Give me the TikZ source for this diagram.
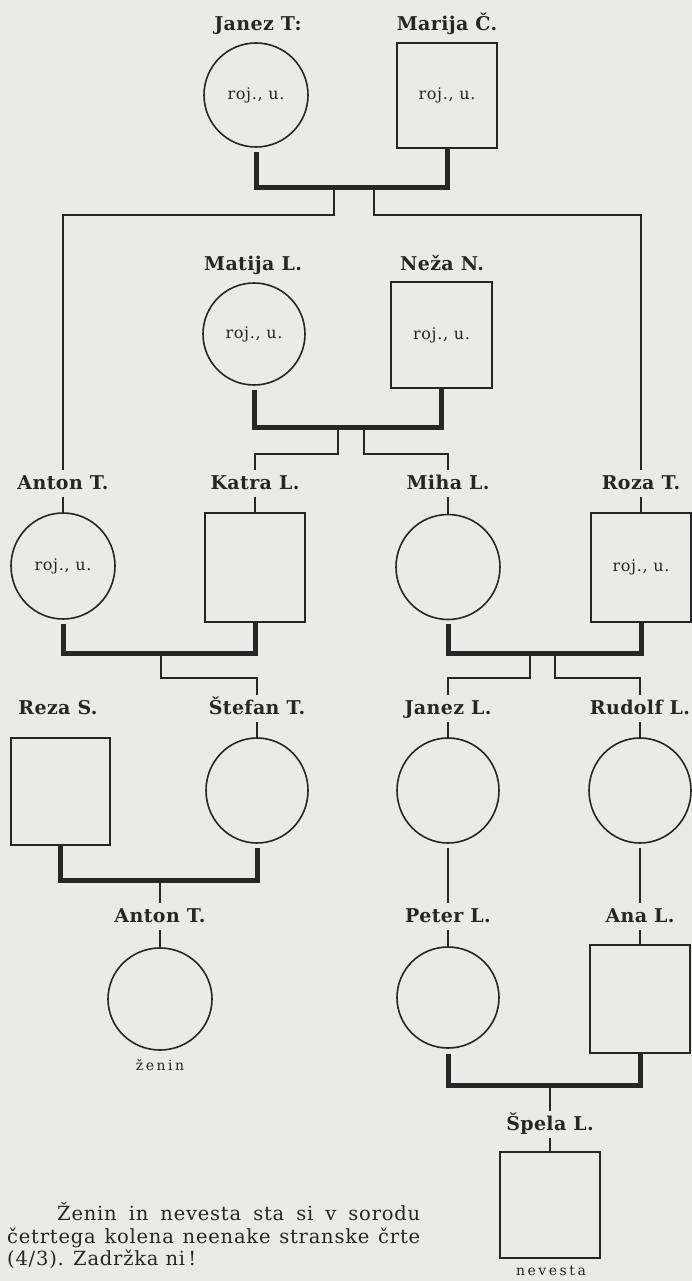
\documentclass[tikz,border=0pt]{standalone}
\usepackage{fontspec}
\setmainfont{DejaVu Serif}
\newfontfamily\namefont[LetterSpace=2]{DejaVu Serif}
\newfontfamily\innerfont[LetterSpace=4]{DejaVu Serif}
\newfontfamily\spacedfont[LetterSpace=18]{DejaVu Serif}
\newfontfamily\bodyfont[LetterSpace=4]{DejaVu Serif}
\usetikzlibrary{shapes.geometric}
\definecolor{paper}{RGB}{234,234,231}
\definecolor{ink}{RGB}{38,38,38}
\begin{document}
\begin{tikzpicture}[x=1pt,y=-1pt,
  pcirc/.style={ellipse, draw=ink, line width=1.6pt, inner sep=0pt, text=ink, font=\innerfont\fontsize{16}{16}\selectfont},
  pbox/.style={rectangle, draw=ink, line width=1.6pt, inner sep=0pt, text=ink, font=\innerfont\fontsize{16}{16}\selectfont},
  plabel/.style={font=\namefont\bfseries\fontsize{19}{19}\selectfont, text=ink, anchor=base, text height=15pt, text depth=4pt, inner sep=4pt},
  role/.style={font=\spacedfont\fontsize{14}{14}\selectfont, text=ink, anchor=base, inner sep=0pt},
  ptext/.style={font=\bodyfont\fontsize{19.5}{21}\selectfont, text=ink, anchor=base west, inner sep=0pt},
  kin/.style={draw=ink, line width=2pt},
  marr/.style={draw=ink, line width=5pt, line join=miter}
]
\fill[paper] (0,0) rectangle (692,1281);
\useasboundingbox (0,0) rectangle (692,1281);

% ---------- generation 1
\node[plabel] (JanezTl) at (258,31) {Janez T:};
\node[plabel] (MarijaCl) at (447,31) {Marija Č.};
\node[pcirc, minimum width=104pt, minimum height=104pt] (JanezT) at (256,95) {roj., u.};
\node[pbox, minimum width=100pt, minimum height=105pt] (MarijaC) at (447,95.5) {roj., u.};

% ---------- generation 2
\node[plabel] (MatijaLl) at (253,270) {Matija L.};
\node[plabel] (NezaNl) at (442,270) {Neža N.};
\node[pcirc, minimum width=102pt, minimum height=102pt] (MatijaL) at (254,334) {roj., u.};
\node[pbox, minimum width=101pt, minimum height=106pt] (NezaN) at (441.5,335) {roj., u.};

% ---------- generation 3
\node[plabel] (AntonTl) at (63,489) {Anton T.};
\node[plabel] (KatraLl) at (255,489) {Katra L.};
\node[plabel] (MihaLl) at (448,489) {Miha L.};
\node[plabel] (RozaTl) at (641,489) {Roza T.};
\node[pcirc, minimum width=104pt, minimum height=106pt] (AntonT) at (63,566) {roj., u.};
\node[pbox, minimum width=100pt, minimum height=109pt] (KatraL) at (255,567.5) {};
\node[pcirc, minimum width=104pt, minimum height=105pt] (MihaL) at (448,567) {};
\node[pbox, minimum width=100pt, minimum height=109pt] (RozaT) at (641,567.5) {roj., u.};

% ---------- generation 4
\node[plabel] (RezaSl) at (58,714) {Reza S.};
\node[plabel] (StefanTl) at (257,714) {Štefan T.};
\node[plabel] (JanezLl) at (448,714) {Janez L.};
\node[plabel] (RudolfLl) at (640,714) {Rudolf L.};
\node[pbox, minimum width=99pt, minimum height=107pt] (RezaS) at (60.5,791.5) {};
\node[pcirc, minimum width=102pt, minimum height=105pt] (StefanT) at (257,790.5) {};
\node[pcirc, minimum width=102pt, minimum height=105pt] (JanezL) at (448,790.5) {};
\node[pcirc, minimum width=102pt, minimum height=105pt] (RudolfL) at (640,790.5) {};

% ---------- generation 5
\node[plabel] (AntonTTl) at (160,922) {Anton T.};
\node[plabel] (PeterLl) at (448,922) {Peter L.};
\node[plabel] (AnaLl) at (640,922) {Ana L.};
\node[pcirc, minimum width=104pt, minimum height=102pt] (AntonTT) at (160,999) {};
\node[pcirc, minimum width=102pt, minimum height=101pt] (PeterL) at (448,997.5) {};
\node[pbox, minimum width=100pt, minimum height=108pt] (AnaL) at (640,999) {};
\node[role] (zenin) at (160,1070) {ženin};

% ---------- generation 6
\node[plabel] (SpelaLl) at (550,1130) {Špela L.};
\node[pbox, minimum width=100pt, minimum height=106pt] (SpelaL) at (550,1205) {};
\node[role] (nevesta) at (551,1275) {nevesta};

% ---------- text
\node[ptext] (p1) at (57,1220) {\makebox[363pt][s]{Ženin in nevesta sta si v sorodu}};
\node[ptext] (p2) at (7,1243) {\makebox[413pt][s]{četrtega kolena neenake stranske črte}};
\node[ptext] (p3) at (7,1265) {(4/3). Zadržka ni\,!};

% ---------- connectors
\coordinate (b1) at (334,188);
\coordinate (b1r) at (374,188);
\draw[marr] ([yshift=-4pt]JanezT.south) |- (b1) -| (MarijaC.south);
\draw[kin] (b1) -- ++(0,27) -| (AntonTl.north);
\draw[kin] (b1r) -- ++(0,27) -| (RozaTl.north);

\coordinate (b2) at (338,427);
\coordinate (b2r) at (364,427);
\draw[marr] ([yshift=-4pt]MatijaL.south) |- (b2) -| (NezaN.south);
\draw[kin] (b2) -- ++(0,27) -| (KatraLl.north);
\draw[kin] (b2r) -- ++(0,27) -| (MihaLl.north);

\draw[kin] (AntonTl.south) -- (AntonT.north);
\draw[kin] (KatraLl.south) -- (KatraL.north);
\draw[kin] (MihaLl.south) -- (MihaL.north);
\draw[kin] (RozaTl.south) -- (RozaT.north);

\coordinate (b3) at (161,653);
\draw[marr] ([yshift=-4pt]AntonT.south) |- (b3) -| (KatraL.south);
\draw[kin] (b3) -- ++(0,25) -| (StefanTl.north);
\coordinate (b4) at (530,653);
\coordinate (b4r) at (555,653);
\draw[marr] ([yshift=-4pt]MihaL.south) |- (b4) -| (RozaT.south);
\draw[kin] (b4) -- ++(0,25) -| (JanezLl.north);
\draw[kin] (b4r) -- ++(0,25) -| (RudolfLl.north);

\draw[kin] (StefanTl.south) -- (StefanT.north);
\draw[kin] (JanezLl.south) -- (JanezL.north);
\draw[kin] (RudolfLl.south) -- (RudolfL.north);

\coordinate (b5) at (160,880);
\draw[marr] (RezaS.south) |- (b5) -| ([yshift=-4pt]StefanT.south);
\draw[kin] (b5) -- (AntonTTl.north);
\draw[kin] ([yshift=-4pt]JanezL.south) -- (PeterLl.north);
\draw[kin] ([yshift=-4pt]RudolfL.south) -- (AnaLl.north);

\draw[kin] (AntonTTl.south) -- (AntonTT.north);
\draw[kin] (PeterLl.south) -- (PeterL.north);
\draw[kin] (AnaLl.south) -- (AnaL.north);

\coordinate (b6) at (550,1085);
\draw[marr] ([yshift=-5pt]PeterL.south) |- (b6) -| (AnaL.south);
\draw[kin] (b6) -- (SpelaLl.north);
\draw[kin] (SpelaLl.south) -- (SpelaL.north);
\end{tikzpicture}
\end{document}
